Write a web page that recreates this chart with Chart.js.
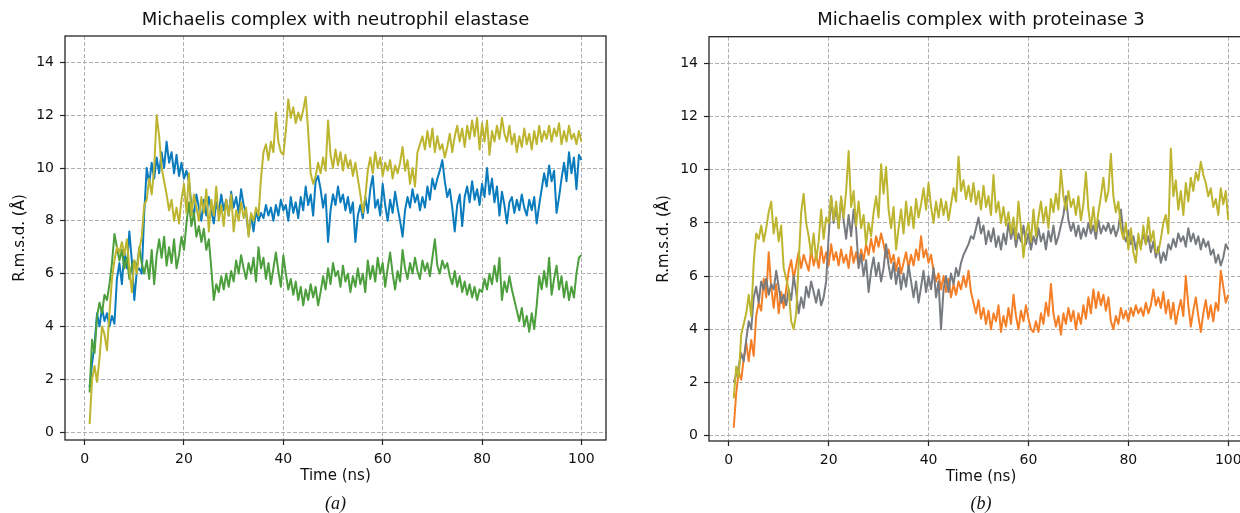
<!DOCTYPE html>
<html><head><meta charset="utf-8">
<script src="https://cdn.jsdelivr.net/npm/chart.js@4.4.0/dist/chart.umd.min.js"></script>
<style>
html,body{margin:0;padding:0;background:#fff;overflow:hidden;width:1240px;height:513px;position:relative;}
#wrapA{position:absolute;left:0;top:0;width:620px;height:513px;}
#wrapB{position:absolute;left:644px;top:0;width:623px;height:513px;}
</style></head><body>
<div id="wrapA"><canvas id="chartA" width="620" height="513"></canvas></div>
<div id="wrapB"><canvas id="chartB" width="623" height="513"></canvas></div>
<script>
// Sampling grid: 1 ns to 100 ns every 0.5 ns (199 samples)
const timeNs = [];
for (let i = 0; i < 199; i++) timeNs.push(1 + i * 0.5);

const xTickStep = 20;
const yTickStep = 2;

// Panel (a): neutrophil elastase
const neBlue = [
1.7,2.6,3.3,4.5,4.0,4.7,4.2,4.5,4.0,4.4,
4.1,5.8,6.4,5.6,6.8,6.2,7.6,6.5,5.0,6.1,
6.2,6.0,8.3,10.0,9.4,10.2,9.6,10.4,9.8,10.6,
10.0,11.0,10.2,10.6,9.8,10.5,9.7,10.2,9.6,9.9,
9.5,8.6,8.2,9.0,8.5,8.0,8.8,8.2,8.9,8.4,
7.9,8.7,8.3,9.0,8.4,8.8,8.2,9.1,8.5,8.9,
8.3,9.2,8.6,8.3,7.5,8.2,7.6,8.4,8.0,8.3,
8.1,8.6,8.2,8.5,8.0,8.6,8.2,8.8,8.4,8.6,
8.0,8.9,8.3,8.7,8.1,8.9,8.4,9.3,8.6,9.0,
8.2,9.5,9.7,9.2,8.5,9.0,7.2,8.4,9.0,8.6,
9.3,8.7,9.0,8.4,8.9,8.3,8.7,7.2,8.2,8.6,
8.1,8.9,8.3,9.2,9.7,8.5,8.8,8.2,9.4,8.6,
8.0,8.8,8.3,9.1,8.5,8.0,7.4,8.4,8.9,8.5,
9.2,8.7,9.0,8.4,8.9,8.5,9.3,8.8,9.6,9.2,
9.6,9.9,10.3,9.5,8.9,9.2,8.5,7.6,8.6,9.0,
7.8,8.9,9.3,8.7,9.5,8.8,9.2,8.6,9.4,8.9,
10.0,9.0,9.6,8.7,9.3,8.2,9.1,8.6,7.9,8.7,
8.9,8.3,8.8,8.4,9.0,8.5,8.2,8.8,8.4,8.9,
7.9,8.6,9.2,9.8,9.3,10.1,9.5,9.9,8.3,8.9,
9.6,10.2,9.5,10.6,9.8,10.4,9.2,10.5,10.3];

const neGreen = [
1.5,3.5,3.0,4.4,4.9,4.5,5.2,5.0,5.6,6.4,
7.5,7.0,6.5,6.9,6.2,6.6,5.8,6.3,6.5,6.2,
7.0,6.4,6.0,6.5,5.8,6.9,5.6,6.7,7.3,6.6,
7.4,6.3,7.0,6.4,7.3,6.2,6.7,7.4,6.9,7.9,
8.7,7.8,8.3,7.4,7.8,7.2,7.7,6.9,7.3,6.2,
5.0,5.6,5.3,5.9,5.4,6.0,5.5,6.1,5.7,6.5,
6.0,6.7,6.2,5.8,6.4,6.0,6.6,5.7,7.0,6.2,
6.6,5.8,6.4,5.6,6.2,6.8,6.1,5.5,6.7,6.0,
5.4,5.8,5.2,5.7,5.0,5.5,4.8,5.4,5.0,5.6,
5.1,5.5,4.8,5.3,5.9,5.4,6.2,5.6,6.4,5.9,
6.1,5.5,6.3,5.7,6.0,5.3,5.9,5.5,6.2,5.6,
6.0,5.3,6.5,5.8,6.3,5.7,6.6,6.0,6.4,5.5,
6.2,6.8,6.0,5.4,6.1,5.7,6.9,6.2,5.8,6.4,
6.0,6.6,6.1,5.8,6.5,6.1,6.4,5.9,6.6,7.3,
6.3,6.0,6.5,6.2,6.4,5.9,5.6,6.1,5.5,5.9,
5.3,5.7,5.2,5.6,5.1,5.5,5.0,5.4,5.3,5.8,
5.4,6.0,5.6,6.3,5.7,6.6,5.0,5.7,5.3,5.9,
5.4,5.0,4.6,4.2,4.7,4.0,4.4,3.8,4.5,3.9,
4.8,5.9,5.4,6.1,5.5,6.6,5.2,5.8,6.3,5.4,
5.9,5.1,5.7,5.0,5.5,5.1,6.0,6.6,6.7];

const neOlive = [
0.3,2.0,2.5,1.9,2.8,4.0,3.7,3.1,4.5,5.8,
6.5,7.0,6.8,7.2,6.7,7.3,6.2,5.3,6.5,6.0,
6.9,7.4,8.6,8.8,9.6,9.0,10.0,12.0,11.2,10.0,
9.5,9.0,8.4,8.8,8.0,8.5,7.9,8.8,9.4,8.3,
9.8,8.2,9.0,8.5,8.0,8.9,8.3,9.2,7.6,8.8,
8.2,9.3,8.0,8.6,7.8,8.8,8.2,9.0,7.6,8.4,
8.0,8.7,8.1,8.5,7.4,8.3,8.0,8.5,8.2,9.6,
10.6,10.9,10.3,11.0,10.6,12.1,11.0,10.6,10.5,11.4,
12.6,11.9,12.3,11.7,12.1,11.8,12.2,12.7,11.4,9.8,
9.4,9.7,10.2,9.8,10.4,9.9,11.8,10.5,10.0,10.7,
10.1,10.6,9.9,10.5,10.0,10.3,9.7,10.2,9.6,9.0,
8.3,8.9,9.9,10.4,9.8,10.6,10.0,10.4,9.7,10.2,
9.9,10.3,9.6,10.1,9.8,10.2,10.8,9.9,10.3,9.4,
10.0,9.3,10.6,10.9,11.2,10.7,11.4,10.8,11.5,10.6,
11.2,10.7,10.9,10.4,10.8,11.3,10.6,11.2,11.6,11.0,
11.5,10.8,11.6,11.1,11.8,11.2,11.9,10.7,11.7,11.0,
11.8,10.5,11.4,11.0,11.6,11.1,11.9,11.3,11.0,11.6,
10.9,11.3,10.6,11.2,10.8,11.5,10.9,11.3,10.7,11.4,
10.9,11.6,11.0,11.4,11.1,11.6,11.0,11.5,11.2,11.7,
10.9,11.4,11.0,11.6,11.1,11.3,10.9,11.4,11.0];

// Panel (b): proteinase 3
const prOrange = [
0.3,1.6,2.4,2.1,2.9,3.5,2.8,3.6,3.0,4.5,
5.0,4.7,5.9,5.2,6.9,5.6,4.8,5.7,4.6,5.4,
4.8,5.5,6.2,6.6,5.9,6.4,6.9,6.3,6.8,6.5,
6.2,7.0,6.4,6.8,6.3,7.1,6.5,6.9,6.4,7.2,
6.6,6.9,6.4,7.0,6.5,6.8,6.3,7.1,6.5,6.9,
6.4,7.0,6.6,7.2,6.8,7.4,6.9,7.5,7.1,7.6,
7.2,6.7,7.0,6.5,6.8,6.2,6.7,6.1,6.5,6.9,
6.3,6.8,6.4,7.0,6.6,7.5,6.7,7.0,6.5,6.8,
6.2,5.8,6.1,5.5,6.0,5.4,5.9,5.2,5.7,5.3,
5.8,5.5,6.0,5.6,6.2,5.4,5.0,4.6,5.1,4.4,
4.8,4.2,4.7,4.0,4.6,4.3,4.9,3.9,4.5,4.1,
4.8,4.2,5.3,4.5,4.0,4.7,4.3,4.9,4.4,4.0,
3.9,4.3,3.9,4.6,4.2,5.0,4.5,5.7,4.6,4.1,
4.5,3.8,4.6,4.2,4.8,4.3,4.7,4.0,4.6,4.2,
4.9,4.4,5.2,4.6,5.5,4.8,5.4,4.9,5.3,4.7,
5.2,4.3,4.0,4.5,4.2,4.8,4.4,4.7,4.3,4.8,
4.5,4.9,4.6,4.8,4.5,5.0,4.6,4.9,5.5,4.9,
5.2,4.8,5.4,4.6,5.1,4.4,5.0,4.2,4.7,5.1,
4.5,6.0,4.9,4.1,4.7,5.2,4.5,3.9,4.6,5.1,
4.4,4.9,4.3,5.0,4.7,6.2,5.6,5.0,5.3];

const prGray = [
2.0,2.3,2.6,3.1,2.8,3.6,4.3,4.0,5.2,5.6,
5.0,5.8,5.5,5.9,5.3,5.7,5.5,6.2,5.6,5.0,
5.3,4.9,5.5,5.1,6.0,5.4,4.6,5.2,4.8,5.6,
5.2,5.8,5.4,5.0,5.5,4.9,5.2,5.8,7.5,9.0,
8.0,8.6,7.8,8.9,8.1,7.4,8.3,7.5,8.5,7.8,
6.3,6.8,6.0,6.6,5.4,6.2,6.7,6.0,6.5,5.8,
6.3,7.2,6.4,5.9,6.5,5.7,6.3,5.5,6.1,5.6,
6.4,5.8,5.2,5.8,5.0,5.6,6.2,5.4,6.0,5.5,
6.3,5.2,5.8,4.0,5.5,6.0,5.4,6.1,5.7,6.3,
6.0,6.5,6.8,7.0,7.2,7.5,7.4,7.8,8.2,7.6,
7.9,7.2,7.7,7.3,7.8,7.1,7.5,7.0,7.6,7.2,
8.0,7.4,7.8,7.1,7.6,7.3,7.9,7.2,7.6,7.0,
7.5,7.2,7.8,7.3,7.6,7.0,7.7,7.3,7.9,7.2,
7.5,7.9,8.3,9.0,8.1,7.7,8.0,7.5,7.9,7.4,
7.8,7.5,8.0,7.6,7.9,7.4,8.1,7.6,7.9,7.7,
8.0,7.6,7.9,7.5,7.8,8.5,7.6,7.3,7.7,7.2,
7.5,7.0,7.4,7.1,7.6,7.2,7.5,6.9,7.3,6.7,
7.1,6.5,6.9,6.6,7.2,7.0,7.4,7.1,7.6,7.3,
7.5,7.1,7.8,7.3,7.6,7.2,7.5,7.0,7.4,7.1,
7.3,6.8,7.0,6.5,6.8,6.4,6.7,7.2,7.0];

const prOlive = [
1.4,2.6,2.2,3.8,4.2,4.6,5.3,4.5,6.5,7.6,
7.4,7.9,7.3,7.8,8.4,8.8,7.6,8.2,7.3,7.9,
6.3,5.9,5.5,4.3,4.0,4.6,6.5,8.4,9.1,8.0,
7.5,6.8,7.6,6.6,7.3,8.5,7.4,8.2,8.0,9.0,
8.1,8.8,7.8,9.0,8.2,9.2,10.7,8.6,9.2,7.9,
8.8,7.8,8.3,7.2,8.0,7.5,8.4,9.0,8.2,10.2,
9.1,10.1,8.5,7.8,8.6,7.0,7.8,8.5,7.6,8.8,
7.9,8.6,7.8,8.9,8.2,8.7,9.3,8.5,9.5,8.6,
8.0,8.8,8.2,8.9,8.3,8.8,8.1,8.7,9.3,8.8,
10.5,9.2,9.6,8.9,9.4,8.8,9.5,8.7,9.2,8.5,
9.4,8.6,9.0,8.3,9.8,8.4,8.8,8.0,8.6,7.9,
8.4,7.6,8.2,7.4,8.8,7.8,6.7,7.6,8.0,7.3,
8.5,7.5,8.2,8.8,8.0,8.6,7.8,8.9,8.4,9.1,
8.5,10.0,9.0,8.5,9.2,8.6,8.9,8.3,9.0,8.1,
8.7,9.9,8.5,7.8,8.6,7.7,8.4,9.0,9.7,8.8,
9.2,10.6,9.0,8.4,8.8,7.8,7.4,8.0,7.0,7.8,
6.9,6.5,7.6,7.0,7.9,7.2,8.2,7.3,7.7,6.9,
6.9,7.4,8.0,8.3,7.6,10.8,9.0,9.6,8.5,9.2,
8.3,9.5,8.8,9.7,9.2,9.9,9.6,10.3,9.8,9.5,
9.0,9.3,8.6,8.9,8.3,9.3,8.7,9.2,8.1];

const colors = {
  blue: '#0a7bbd', green: '#4c9f3c', olive: '#bdb430',
  orange: '#f47f27', gray: '#777b80'
};

function pts(vals) { return vals.map((v, i) => ({ x: timeNs[i], y: v })); }
function line(vals, color) {
  return { data: pts(vals), borderColor: color, borderWidth: 2, pointRadius: 0,
           fill: false, tension: 0, borderJoinStyle: 'round' };
}

Chart.defaults.font.family = "'DejaVu Sans', sans-serif";
Chart.defaults.color = '#111';

const framePlugin = {
  id: 'frame',
  afterDraw(chart) {
    const { ctx, chartArea: a } = chart;
    ctx.save();
    ctx.strokeStyle = '#262626';
    ctx.lineWidth = 1.3;
    ctx.strokeRect(a.left, a.top, a.right - a.left, a.bottom - a.top);
    ctx.restore();
  }
};

function makeChart(id, titleText, captionText, datasets, yMin, topPad, chartTop, xAxisH, xTitlePad) {
  const titleLH = 18 * 1.2;
  return new Chart(document.getElementById(id), {
    type: 'line',
    data: { datasets },
    plugins: [framePlugin],
    options: {
      responsive: false, animation: false, devicePixelRatio: 1,
      layout: { padding: { left: 0, right: 14, top: 0, bottom: 0 } },
      plugins: {
        legend: { display: false }, tooltip: { enabled: false },
        title: { display: true, text: titleText, fullSize: false, color: '#111',
          font: { family: "'DejaVu Sans', sans-serif", size: 18, weight: 'normal', lineHeight: 1.2 },
          padding: { top: topPad, bottom: chartTop - topPad - titleLH } },
        subtitle: { display: true, text: captionText, position: 'bottom', fullSize: false, color: '#111',
          font: { family: "'Liberation Serif', 'DejaVu Serif', serif", size: 18, style: 'italic', weight: 'normal', lineHeight: 1 },
          padding: { top: 0, bottom: 0 } }
      },
      scales: {
        x: {
          type: 'linear', min: -3.95, max: 104.95,
          afterFit: s => { s.height = xAxisH; },
          ticks: { stepSize: xTickStep, includeBounds: false, maxRotation: 0, autoSkip: false,
                   color: '#111', padding: 6, font: { size: 14 } },
          grid: { color: '#b0b0b0', lineWidth: 1, drawTicks: true,
                  tickLength: 5, tickColor: '#262626', tickWidth: 1.2, tickBorderDash: [] },
          border: { display: false, dash: [4, 2] },
          title: { display: true, text: 'Time (ns)', color: '#111',
                   font: { size: 15, lineHeight: 1.2 }, padding: { top: 0, bottom: xTitlePad } }
        },
        y: {
          type: 'linear', min: yMin, max: 15,
          afterFit: s => { s.width = 65; },
          ticks: { stepSize: yTickStep, includeBounds: false, color: '#111', padding: 6,
                   font: { size: 14 } },
          grid: { color: '#b0b0b0', lineWidth: 1, drawTicks: true,
                  tickLength: 5, tickColor: '#262626', tickWidth: 1.2, tickBorderDash: [] },
          border: { display: false, dash: [4, 2] },
          title: { display: true, text: 'R.m.s.d. (Å)', color: '#111',
                   font: { size: 15, lineHeight: 1.2 }, padding: { top: 11, bottom: 0 } }
        }
      }
    }
  });
}

makeChart('chartA', 'Michaelis complex with neutrophil elastase', '(a)',
  [line(neOlive, colors.olive), line(neGreen, colors.green), line(neBlue, colors.blue)],
  -0.3, 9.5, 36, 55, 9.5);

makeChart('chartB', 'Michaelis complex with proteinase 3', '(b)',
  [line(prOlive, colors.olive), line(prGray, colors.gray), line(prOrange, colors.orange)],
  -0.2, 10, 36.7, 54, 8.5);
</script>
</body></html>
